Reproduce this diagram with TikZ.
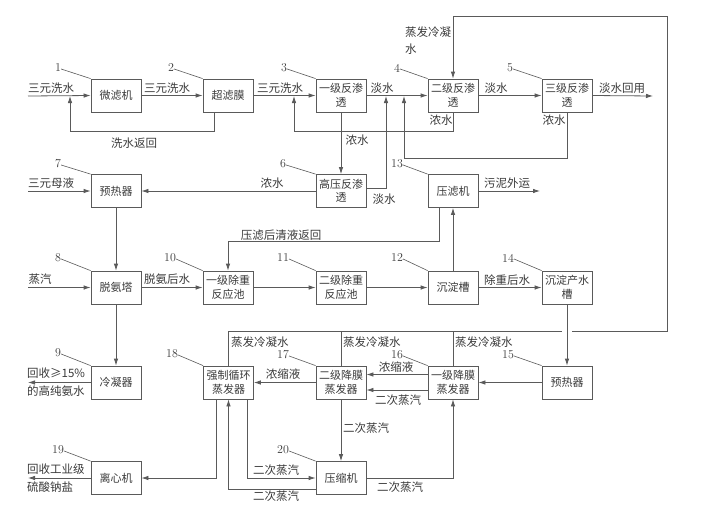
\documentclass[tikz,border=0pt]{standalone}
\usepackage{fontspec}
\newfontfamily\cjk{Noto Sans CJK SC}
\usetikzlibrary{arrows.meta}
\definecolor{txt}{HTML}{3A3A3A}
\definecolor{ln}{HTML}{5A5A5A}
\begin{document}
\begin{tikzpicture}[x=1pt,y=-1pt,
  box/.style={draw=ln,line width=0.8pt,minimum width=50pt,minimum height=33pt,inner sep=0pt,align=center,
    font=\cjk\fontsize{11}{13.5}\selectfont,text=txt},
  lbl/.style={font=\cjk\fontsize{11.5}{14}\selectfont,text=txt,inner sep=0pt},
  num/.style={font=\fontsize{12}{13}\selectfont,text=txt,inner sep=0pt},
  lead/.style={draw=ln,line width=0.6pt},
  conn/.style={draw=ln,line width=0.8pt},
  arr/.style={conn,-{Latex[length=7pt,width=4.5pt]}}]
\useasboundingbox (0,0) rectangle (705,507);
\fill[white] (0,0) rectangle (705,507);

% ---- boxes ----
\node[box] (b1) at (116,95.5) {微滤机};
\node[box] (b2) at (228,95.5) {超滤膜};
\node[box] (b3) at (341,95.5) {一级反渗\\透};
\node[box] (b4) at (453,95.5) {二级反渗\\透};
\node[box] (b5) at (567,95.5) {三级反渗\\透};
\node[box] (b7) at (116,191) {预热器};
\node[box] (b6) at (341,191) {高压反渗\\透};
\node[box] (b13) at (453,191) {压滤机};
\node[box] (b8) at (116,287.5) {脱氨塔};
\node[box] (b10) at (228,287.5) {一级除重\\反应池};
\node[box] (b11) at (341,287.5) {二级除重\\反应池};
\node[box] (b12) at (453,287.5) {沉淀槽};
\node[box] (b14) at (567,287.5) {沉淀产水\\槽};
\node[box] (b9) at (116,382.5) {冷凝器};
\node[box] (b18) at (228.5,382.5) {强制循环\\蒸发器};
\node[box] (b17) at (341,382.5) {二级降膜\\蒸发器};
\node[box] (b16) at (453,382.5) {一级降膜\\蒸发器};
\node[box] (b15) at (567,382.5) {预热器};
\node[box] (b19) at (116,478) {离心机};
\node[box] (b20) at (341,478) {压缩机};

% ---- numbers with leaders ----
\foreach \n/\b/\x/\y in {1/b1/58/68,2/b2/171/68,3/b3/284/68,4/b4/397/68,5/b5/510/68,
  7/b7/58/164,6/b6/283/164,13/b13/397/164,
  8/b8/58/258,10/b10/170/258,11/b11/283/258,12/b12/397/258,14/b14/508/258,
  9/b9/58/353,18/b18/172/354,17/b17/283/355,16/b16/397/355,15/b15/508/355,
  19/b19/58/450,20/b20/283/450}{
  \node[num] (n\n) at (\x,\y) {\n};
  \draw[lead] ([yshift=-1pt]n\n.east) -- (\b.north west);
}

% ---- free end coordinates ----
\coordinate (in1) at (28,96);
\coordinate (j1) at (70,96);
\coordinate (j2) at (294,96);
\coordinate (j4) at (386,96);
\coordinate (j3) at (404,96);
\coordinate (out1) at (653,96);
\coordinate (tr) at (667,16);
\coordinate (gapL) at (562,331);
\coordinate (gapR) at (572,331);
\coordinate (in7) at (28,191);
\coordinate (out13) at (540,191);
\coordinate (in8) at (28,287.5);
\coordinate (out9) at (28,382.5);
\coordinate (out19) at (28,478);

% ---- row 1 ----
\draw[arr] (in1) -- (b1.west);
\draw[arr] (b1) -- (b2);
\draw[arr] (b2) -- (b3);
\draw[arr] (b3) -- (b4);
\draw[arr] (b4) -- (b5);
\draw[arr] (b5.east) -- (out1);
\draw[arr] ([xshift=-14pt]b2.south) -- ++(0,19) -| (j1);
\draw[arr] (b4.south) -- ++(0,19) -| (j2);
\draw[arr] (b5.south) -- ++(0,46) -| (j3);
\draw[arr] ([yshift=3pt]b6.east) -| (j4);
\draw[arr] (b3.south) -- (b6.north);
\node[lbl] at (51,88) {三元洗水};
\node[lbl] at (167,88) {三元洗水};
\node[lbl] at (280,88) {三元洗水};
\node[lbl] at (134,143) {洗水返回};
\node[lbl] at (382,88) {淡水};
\node[lbl] at (496,88) {淡水};
\node[lbl] at (622,88) {淡水回用};
\node[lbl] at (441,120) {浓水};
\node[lbl] at (554,120) {浓水};
\node[lbl] at (357,140) {浓水};
\node[lbl] at (384,199) {淡水};
\node[lbl,align=left,anchor=north west,font=\cjk\fontsize{11.5}{17}\selectfont] at (405,27) {蒸发冷凝\\水};

% ---- condensate collector loop ----
\draw[conn] (b18.north) |- (gapL);
\draw[arr] (gapR) -| (tr) -| (b4.north);
\draw[conn] (b17.north) -- (b17.north |- gapL);
\draw[conn] (b16.north) -- (b16.north |- gapL);
\node[lbl,anchor=west] at (231,342) {蒸发冷凝水};
\node[lbl,anchor=west] at (343,342) {蒸发冷凝水};
\node[lbl,anchor=west] at (455,342) {蒸发冷凝水};

% ---- row 2 ----
\draw[arr] (in7) -- (b7.west);
\draw[arr] (b6.west) -- (b7.east);
\draw[arr] (b7.south) -- (b8.north);
\draw[arr] (b13.east) -- (out13);
\draw[arr] (b12.north) -- (b13.south);
\draw[arr] ([xshift=-14pt]b13.south) -- ++(0,33) -| (b10.north);
\node[lbl] at (51,183) {三元母液};
\node[lbl] at (272,183) {浓水};
\node[lbl] at (507,183) {污泥外运};
\node[lbl] at (281,235) {压滤后清液返回};

% ---- row 3 ----
\draw[arr] (in8) -- (b8.west);
\draw[arr] (b8) -- (b10);
\draw[arr] (b10) -- (b11);
\draw[arr] (b11) -- (b12);
\draw[arr] (b12) -- (b14);
\draw[arr] (b8.south) -- (b9.north);
\draw[arr] (b14.south) -- (b15.north);
\node[lbl] at (40,279) {蒸汽};
\node[lbl] at (167,279) {脱氨后水};
\node[lbl] at (507,280) {除重后水};

% ---- row 4 ----
\draw[arr] (b9.west) -- (out9);
\draw[arr] (b15.west) -- (b16.east);
\draw[arr] ([yshift=8pt]b16.west) -- ([yshift=8pt]b17.east);
\draw[arr] ([yshift=-7.5pt]b16.west) -- ([yshift=-7.5pt]b17.east);
\draw[arr] (b17.west) -- (b18.east);
\draw[arr] (b17.south) -- (b20.north);
\draw[arr] (b20.east) -| (b16.south);
\draw[arr] ([xshift=19pt]b18.south) |- (b20.west);
\draw[arr] ([yshift=-11pt]b20.west) -| (b18.south);
\draw[arr] ([xshift=-12.5pt]b18.south) |- (b19.east);
\draw[arr] (b19.west) -- (out19);
\node[lbl,anchor=west] at (27,373) {回收≥15\%};
\node[lbl,anchor=west] at (27,391) {的高纯氨水};
\node[lbl,anchor=west] at (27,469) {回收工业级};
\node[lbl,anchor=west] at (27,487) {硫酸钠盐};
\node[lbl] at (283,374) {浓缩液};
\node[lbl] at (396,367) {浓缩液};
\node[lbl] at (398,400) {二次蒸汽};
\node[lbl,anchor=west] at (343,428) {二次蒸汽};
\node[lbl] at (276,470) {二次蒸汽};
\node[lbl] at (276,496) {二次蒸汽};
\node[lbl] at (400,487) {二次蒸汽};
\end{tikzpicture}
\end{document}
